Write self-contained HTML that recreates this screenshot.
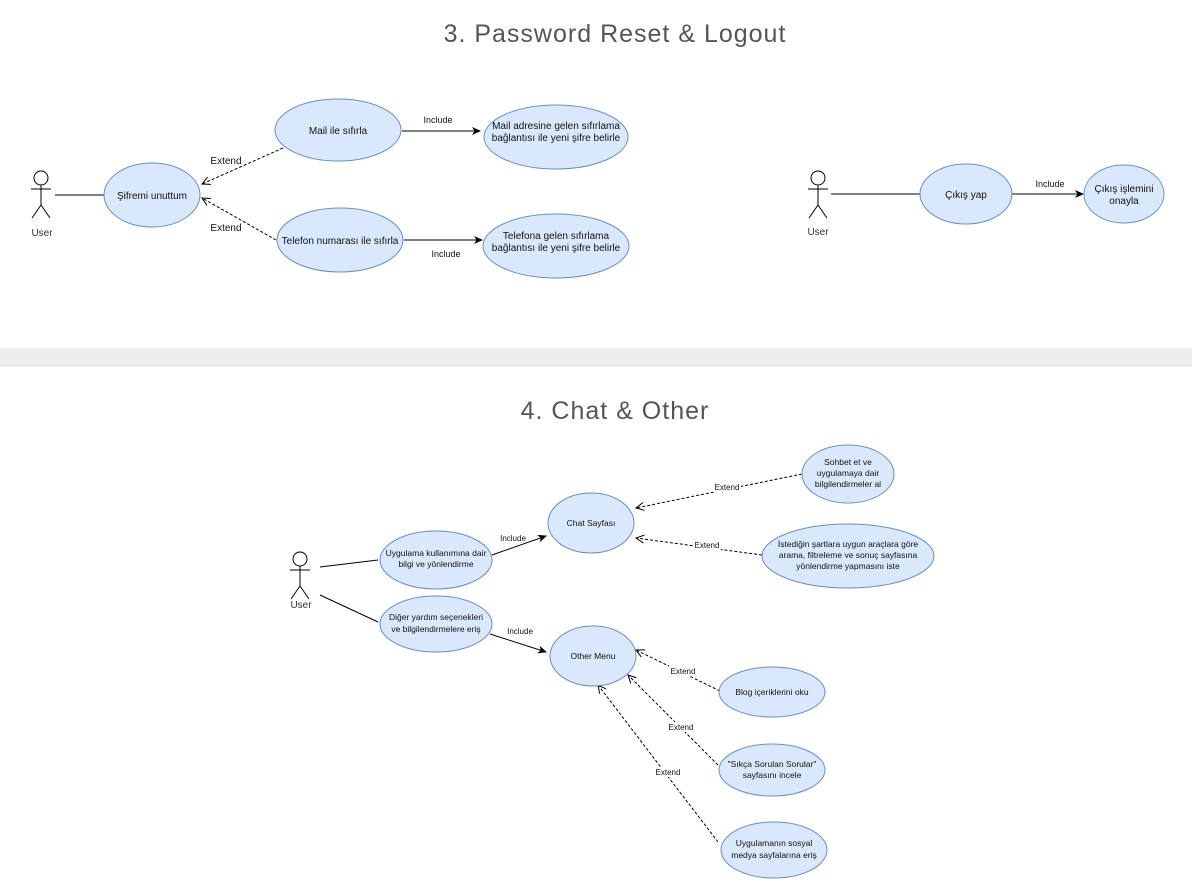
<!DOCTYPE html>
<html><head><meta charset="utf-8"><style>
html,body{margin:0;padding:0;background:#fff;}
svg{display:block;}
text{font-family:"Liberation Sans",sans-serif;}
</style></head><body>
<svg width="1192" height="888" viewBox="0 0 1192 888" xmlns="http://www.w3.org/2000/svg">
<defs>
<marker id="a" markerWidth="10" markerHeight="10" refX="8" refY="5" orient="auto" markerUnits="userSpaceOnUse"><path d="M0,1 L9,5 L0,9 L2.5,5 Z" fill="#000"/></marker>
<marker id="o" markerWidth="10" markerHeight="10" refX="8" refY="5" orient="auto" markerUnits="userSpaceOnUse"><path d="M0,1 L8,5 L0,9" fill="none" stroke="#000" stroke-width="1"/></marker>
</defs>
<rect x="0" y="348" width="1192" height="19" fill="#eeeeee"/>
<text x="615" y="42" font-size="25" fill="#555" text-anchor="middle" letter-spacing="1">3. Password Reset &amp; Logout</text>
<text x="615" y="419" font-size="25" fill="#555" text-anchor="middle" letter-spacing="1">4. Chat &amp; Other</text>

<g stroke="#000" stroke-width="1" fill="none">
<circle cx="41" cy="178" r="7"/><path d="M41,185V205M31,189H51M41,205L32,218M41,205L50,218"/>
<circle cx="818" cy="178" r="7"/><path d="M818,185V205M808,189H828M818,205L809,218M818,205L827,218"/>
<circle cx="300" cy="559" r="7"/><path d="M300,566V586M290,570H310M300,586L291,599M300,586L309,599"/>
<path d="M55,195H104"/><path d="M831,194H920"/>
<path d="M320,567L378,560"/><path d="M320,595L378,622"/>
<path d="M402,131H480" marker-end="url(#a)"/>
<path d="M404,240H482" marker-end="url(#a)"/>
<path d="M1012,194H1083" marker-end="url(#a)"/>
<path d="M492,555L546,536" marker-end="url(#a)"/>
<path d="M490,634L546,652" marker-end="url(#a)"/>
<g stroke-dasharray="3,2">
<path d="M283,148L202,184" marker-end="url(#o)"/>
<path d="M276,240L202,198" marker-end="url(#o)"/>
<path d="M802,474L636,508" marker-end="url(#o)"/>
<path d="M762,555L636,538" marker-end="url(#o)"/>
<path d="M720,691L636,650" marker-end="url(#o)"/>
<path d="M718,765L628,675" marker-end="url(#o)"/>
<path d="M718,842L598,685" marker-end="url(#o)"/>
</g>
</g>

<g fill="#fff">
<rect x="713" y="482" width="28" height="10"/>
<rect x="693" y="540" width="28" height="10"/>
<rect x="669" y="666" width="28" height="10"/>
<rect x="667" y="722" width="28" height="10"/>
<rect x="654" y="767" width="28" height="10"/>
</g>

<g fill="#dae8fc" stroke="#6c8ebf" stroke-width="1">
<ellipse cx="152" cy="195" rx="48" ry="32"/>
<ellipse cx="338" cy="130" rx="63" ry="31"/>
<ellipse cx="340" cy="240" rx="63" ry="32"/>
<ellipse cx="556" cy="137" rx="72" ry="32"/>
<ellipse cx="556" cy="246" rx="73" ry="32"/>
<ellipse cx="966" cy="194" rx="46" ry="30"/>
<ellipse cx="1124" cy="194" rx="40" ry="29"/>
<ellipse cx="436" cy="560" rx="56" ry="29"/>
<ellipse cx="436" cy="624" rx="56" ry="28"/>
<ellipse cx="591" cy="523" rx="43" ry="30"/>
<ellipse cx="593" cy="656" rx="43" ry="30"/>
<ellipse cx="848" cy="474" rx="46" ry="29"/>
<ellipse cx="848" cy="556" rx="86" ry="32"/>
<ellipse cx="772" cy="692" rx="53" ry="25"/>
<ellipse cx="772" cy="770" rx="53" ry="26"/>
<ellipse cx="774" cy="850" rx="53" ry="28"/>
</g>

<g font-size="10" fill="#111" text-anchor="middle">
<text x="42" y="236" fill="#333">User</text>
<text x="818" y="235" fill="#333">User</text>
<text x="301" y="608" fill="#333">User</text>
<text x="152" y="199">Şifremi unuttum</text>
<text x="338" y="134">Mail ile sıfırla</text>
<text x="340" y="244">Telefon numarası ile sıfırla</text>
<text x="556" y="129">Mail adresine gelen sıfırlama</text>
<text x="556" y="141">bağlantısı ile yeni şifre belirle</text>
<text x="556" y="239">Telefona gelen sıfırlama</text>
<text x="556" y="251">bağlantısı ile yeni şifre belirle</text>
<text x="966" y="198">Çıkış yap</text>
<text x="1124" y="192">Çıkış işlemini</text>
<text x="1124" y="204">onayla</text>
<text x="226" y="164">Extend</text>
<text x="226" y="231">Extend</text>
<text x="438" y="123" font-size="9">Include</text>
<text x="446" y="257" font-size="9">Include</text>
<text x="1050" y="187" font-size="9">Include</text>
</g>
<g font-size="8.5" fill="#111" text-anchor="middle">
<text x="436" y="556">Uygulama kullanımına dair</text>
<text x="436" y="567">bilgi ve yönlendirme</text>
<text x="436" y="620">Diğer yardım seçenekleri</text>
<text x="436" y="632">ve bilgilendirmelere eriş</text>
<text x="591" y="526">Chat Sayfası</text>
<text x="593" y="659">Other Menu</text>
<text x="848" y="465">Sohbet et ve</text>
<text x="848" y="476">uygulamaya dair</text>
<text x="848" y="487">bilgilendirmeler al</text>
<text x="848" y="547">İstediğin şartlara uygun araçlara göre</text>
<text x="848" y="558">arama, filtreleme ve sonuç sayfasına</text>
<text x="848" y="569">yönlendirme yapmasını iste</text>
<text x="772" y="695">Blog içeriklerini oku</text>
<text x="772" y="767">"Sıkça Sorulan Sorular"</text>
<text x="772" y="778">sayfasını incele</text>
<text x="774" y="846">Uygulamanın sosyal</text>
<text x="774" y="858">medya sayfalarına eriş</text>
<text x="513" y="541" font-size="8">Include</text>
<text x="520" y="634" font-size="8">Include</text>
<text x="727" y="490" font-size="8">Extend</text>
<text x="707" y="548" font-size="8">Extend</text>
<text x="683" y="674" font-size="8">Extend</text>
<text x="681" y="730" font-size="8">Extend</text>
<text x="668" y="775" font-size="8">Extend</text>
</g>
</svg>
</body></html>
